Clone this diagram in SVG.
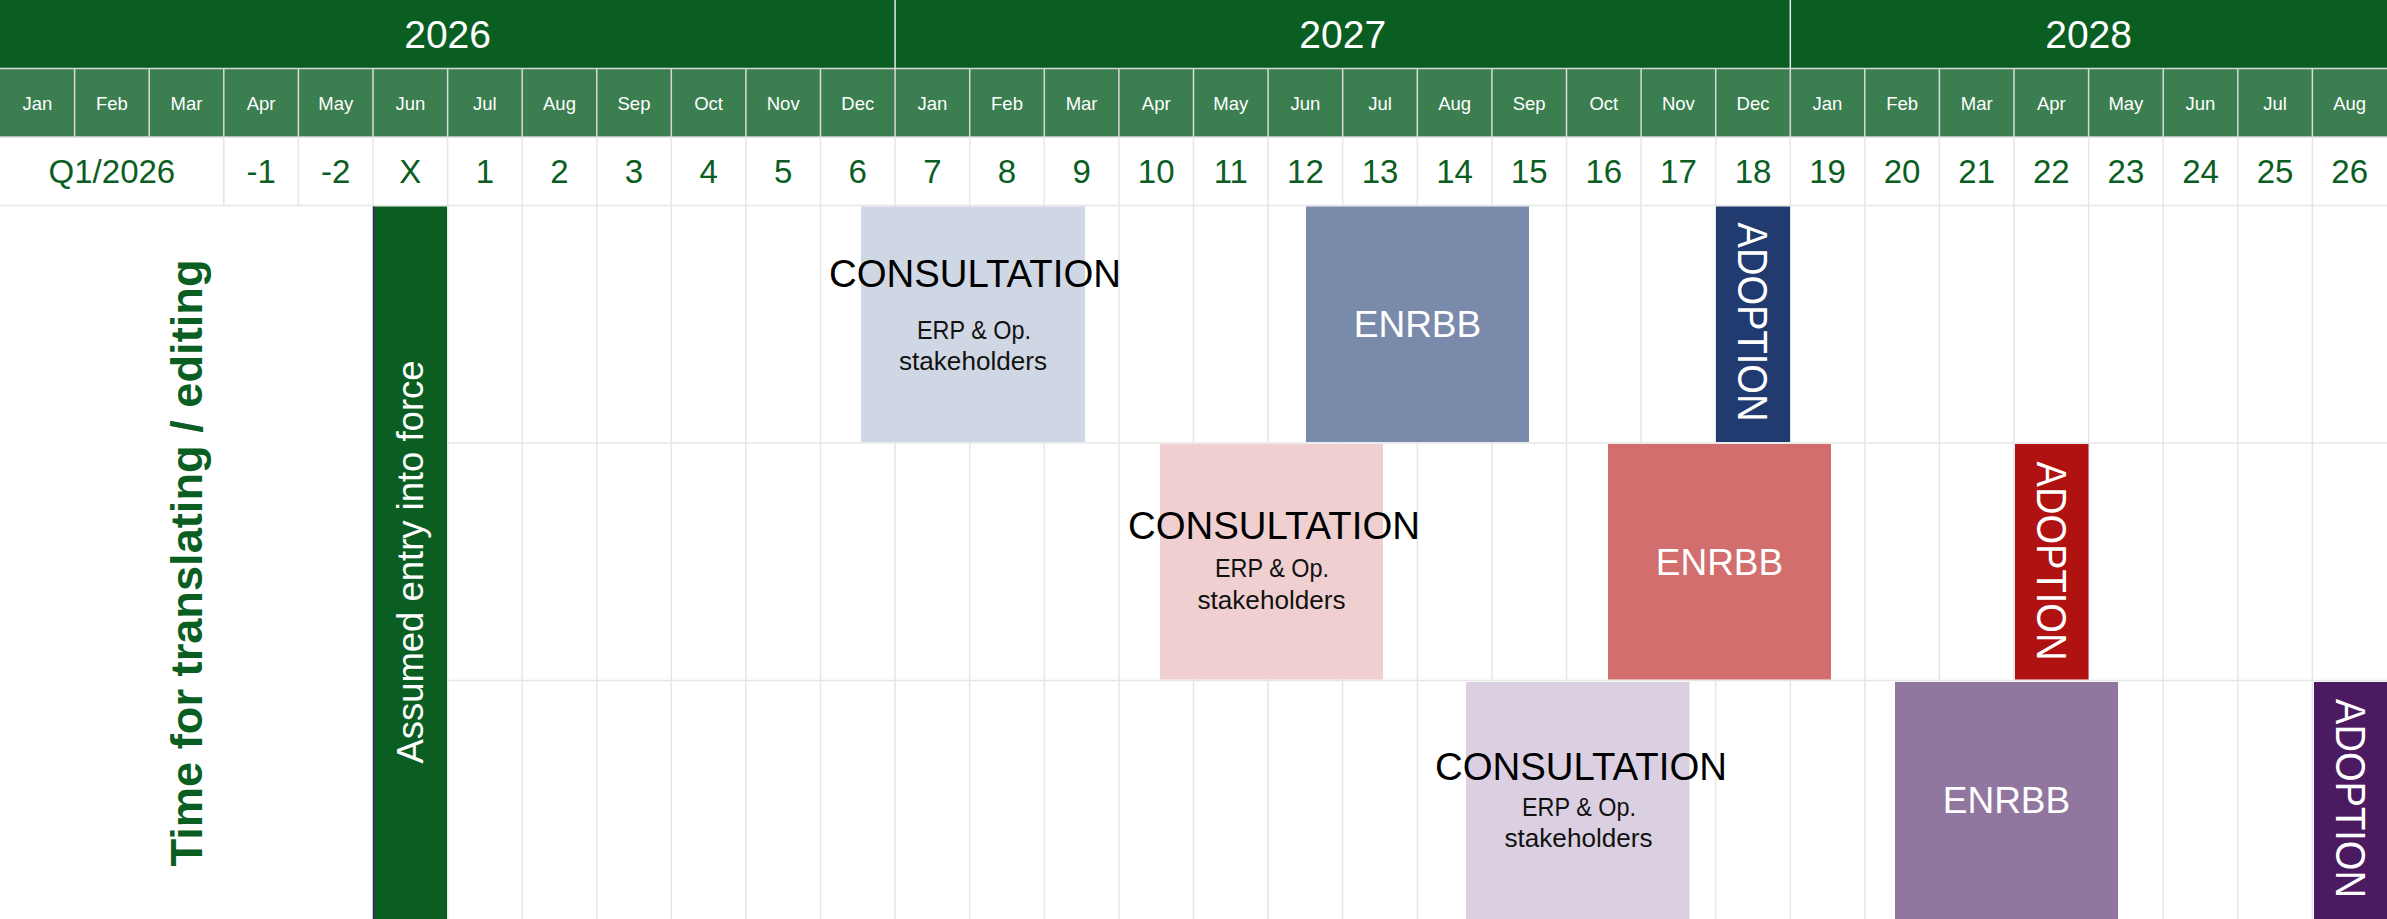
<svg xmlns="http://www.w3.org/2000/svg" width="2387" height="919" viewBox="0 0 2387 919">
<style>
.yr{fill:#0A5E22}
.mo{fill:#3B7E50}
.hl{stroke:#D9D9D9;stroke-width:1.5;fill:none}
.gl{stroke:#E6E6E6;stroke-width:1.5;fill:none}
.yt{font-family:"Liberation Sans",Arial,sans-serif;font-size:39px;fill:#FFFFFF;text-anchor:middle}
.mt{font-family:"Liberation Sans",Arial,sans-serif;font-size:18.5px;fill:#FFFFFF;text-anchor:middle}
.nt{font-family:"Liberation Sans",Arial,sans-serif;font-size:33px;fill:#0A5E22;text-anchor:middle}
.ct{font-family:"Liberation Sans",Arial,sans-serif;font-size:39.5px;fill:#000000;text-anchor:middle}
.st{font-family:"Liberation Sans",Arial,sans-serif;font-size:25px;fill:#111111;text-anchor:middle}
.et{font-family:"Liberation Sans",Arial,sans-serif;font-size:37px;fill:#FFFFFF;text-anchor:middle}
.at{font-family:"Liberation Sans",Arial,sans-serif;font-size:42px;fill:#FFFFFF;text-anchor:middle}
</style>
<rect x="0" y="0" width="2387" height="919" fill="#FFFFFF"/>

<g id="header">
  <rect class="yr" x="0" y="0" width="2387" height="68.5"/>
  <rect class="mo" x="0" y="68.5" width="2387" height="68.5"/>
  <g class="hl">
    <line x1="895.1" y1="0" x2="895.1" y2="68.5" stroke="#E8E8E8"/>
    <line x1="1790.3" y1="0" x2="1790.3" y2="68.5" stroke="#E8E8E8"/>
    <line x1="0" y1="68.5" x2="2387" y2="68.5"/>
    <line x1="0" y1="137" x2="2387" y2="137"/>
    <path d="M74.6 68.5V137M149.2 68.5V137M223.8 68.5V137M298.4 68.5V137M373 68.5V137M447.6 68.5V137M522.2 68.5V137M596.8 68.5V137M671.3 68.5V137M745.9 68.5V137M820.5 68.5V137M895.1 68.5V137M969.7 68.5V137M1044.3 68.5V137M1118.9 68.5V137M1193.5 68.5V137M1268.1 68.5V137M1342.7 68.5V137M1417.3 68.5V137M1491.9 68.5V137M1566.5 68.5V137M1641.1 68.5V137M1715.7 68.5V137M1790.3 68.5V137M1864.8 68.5V137M1939.4 68.5V137M2014 68.5V137M2088.6 68.5V137M2163.2 68.5V137M2237.8 68.5V137M2312.4 68.5V137"/>
  </g>
  <text class="yt" x="447.6" y="48">2026</text>
  <text class="yt" x="1342.7" y="48">2027</text>
  <text class="yt" x="2088.6" y="48">2028</text>
  <g class="mt">
    <text x="37.3" y="110">Jan</text><text x="111.9" y="110">Feb</text><text x="186.5" y="110">Mar</text>
    <text x="261.1" y="110">Apr</text><text x="335.7" y="110">May</text><text x="410.3" y="110">Jun</text>
    <text x="484.9" y="110">Jul</text><text x="559.5" y="110">Aug</text><text x="634" y="110">Sep</text>
    <text x="708.6" y="110">Oct</text><text x="783.2" y="110">Nov</text><text x="857.8" y="110">Dec</text>
    <text x="932.4" y="110">Jan</text><text x="1007" y="110">Feb</text><text x="1081.6" y="110">Mar</text>
    <text x="1156.2" y="110">Apr</text><text x="1230.8" y="110">May</text><text x="1305.4" y="110">Jun</text>
    <text x="1380" y="110">Jul</text><text x="1454.6" y="110">Aug</text><text x="1529.2" y="110">Sep</text>
    <text x="1603.8" y="110">Oct</text><text x="1678.4" y="110">Nov</text><text x="1753" y="110">Dec</text>
    <text x="1827.5" y="110">Jan</text><text x="1902.1" y="110">Feb</text><text x="1976.7" y="110">Mar</text>
    <text x="2051.3" y="110">Apr</text><text x="2125.9" y="110">May</text><text x="2200.5" y="110">Jun</text>
    <text x="2275.1" y="110">Jul</text><text x="2349.7" y="110">Aug</text>
  </g>
</g>

<g id="numbers">
  <g class="gl">
    <line x1="0" y1="205.5" x2="2387" y2="205.5"/>
    <path d="M223.8 137V205.5M298.4 137V205.5M373 137V205.5M447.6 137V205.5M522.2 137V205.5M596.8 137V205.5M671.3 137V205.5M745.9 137V205.5M820.5 137V205.5M895.1 137V205.5M969.7 137V205.5M1044.3 137V205.5M1118.9 137V205.5M1193.5 137V205.5M1268.1 137V205.5M1342.7 137V205.5M1417.3 137V205.5M1491.9 137V205.5M1566.5 137V205.5M1641.1 137V205.5M1715.7 137V205.5M1790.3 137V205.5M1864.8 137V205.5M1939.4 137V205.5M2014 137V205.5M2088.6 137V205.5M2163.2 137V205.5M2237.8 137V205.5M2312.4 137V205.5"/>
  </g>
  <g class="nt">
    <text x="111.9" y="183">Q1/2026</text>
    <text x="261.1" y="183">-1</text><text x="335.7" y="183">-2</text><text x="410.3" y="183">X</text>
    <text x="484.9" y="183">1</text><text x="559.5" y="183">2</text><text x="634" y="183">3</text>
    <text x="708.6" y="183">4</text><text x="783.2" y="183">5</text><text x="857.8" y="183">6</text>
    <text x="932.4" y="183">7</text><text x="1007" y="183">8</text><text x="1081.6" y="183">9</text>
    <text x="1156.2" y="183">10</text><text x="1230.8" y="183">11</text><text x="1305.4" y="183">12</text>
    <text x="1380" y="183">13</text><text x="1454.6" y="183">14</text><text x="1529.2" y="183">15</text>
    <text x="1603.8" y="183">16</text><text x="1678.4" y="183">17</text><text x="1753" y="183">18</text>
    <text x="1827.5" y="183">19</text><text x="1902.1" y="183">20</text><text x="1976.7" y="183">21</text>
    <text x="2051.3" y="183">22</text><text x="2125.9" y="183">23</text><text x="2200.5" y="183">24</text>
    <text x="2275.1" y="183">25</text><text x="2349.7" y="183">26</text>
  </g>
</g>

<g id="grid">
  <g class="gl">
    <line x1="447.6" y1="443" x2="2387" y2="443"/>
    <line x1="447.6" y1="680.5" x2="2387" y2="680.5"/>
    <path d="M447.6 205.5V919M522.2 205.5V919M596.8 205.5V919M671.3 205.5V919M745.9 205.5V919M820.5 205.5V919M895.1 205.5V919M969.7 205.5V919M1044.3 205.5V919M1118.9 205.5V919M1193.5 205.5V919M1268.1 205.5V919M1342.7 205.5V919M1417.3 205.5V919M1491.9 205.5V919M1566.5 205.5V919M1641.1 205.5V919M1715.7 205.5V919M1790.3 205.5V919M1864.8 205.5V919M1939.4 205.5V919M2014 205.5V919M2088.6 205.5V919M2163.2 205.5V919M2237.8 205.5V919M2312.4 205.5V919"/>
  </g>
</g>

<g id="translating-label">
  <text transform="translate(202,563) rotate(-90)" font-family="'Liberation Sans',Arial,sans-serif" font-size="45" font-weight="bold" fill="#0A5E22" text-anchor="middle" textLength="607" lengthAdjust="spacingAndGlyphs">Time for translating / editing</text>
</g>

<g id="entry-into-force">
  <rect x="373" y="206.5" width="74" height="712.5" fill="#0A5E22"/>
  <line x1="373.5" y1="206.5" x2="373.5" y2="919" stroke="#3C1F5E" stroke-width="1.5"/>
  <text transform="translate(423,562) rotate(-90)" font-family="'Liberation Sans',Arial,sans-serif" font-size="36.5" fill="#FFFFFF" text-anchor="middle" textLength="403" lengthAdjust="spacingAndGlyphs">Assumed entry into force</text>
</g>

<g id="consultation-1">
  <rect x="861" y="206.5" width="224" height="235.5" fill="#D0D7E4"/>
  <text class="ct" x="975" y="287" textLength="292" lengthAdjust="spacingAndGlyphs">CONSULTATION</text>
  <text class="st" x="974" y="339" textLength="114" lengthAdjust="spacingAndGlyphs">ERP &amp; Op.</text>
  <text class="st" x="973" y="369.5" textLength="148" lengthAdjust="spacingAndGlyphs">stakeholders</text>
</g>
<g id="enrbb-1">
  <rect x="1306" y="206.5" width="223" height="235.5" fill="#7A8AAA"/>
  <text class="et" x="1417.5" y="337">ENRBB</text>
</g>
<g id="adoption-1">
  <rect x="1716" y="206.5" width="74" height="235.5" fill="#213B70"/>
  <text class="at" transform="translate(1737.5,322) rotate(90)" textLength="199" lengthAdjust="spacingAndGlyphs">ADOPTION</text>
</g>

<g id="consultation-2">
  <rect x="1160" y="444" width="223" height="235.5" fill="#EFCFCF"/>
  <text class="ct" x="1274" y="539" textLength="292" lengthAdjust="spacingAndGlyphs">CONSULTATION</text>
  <text class="st" x="1272" y="577" textLength="114" lengthAdjust="spacingAndGlyphs">ERP &amp; Op.</text>
  <text class="st" x="1271.5" y="608.5" textLength="148" lengthAdjust="spacingAndGlyphs">stakeholders</text>
</g>
<g id="enrbb-2">
  <rect x="1608" y="444" width="223" height="235.5" fill="#D26E6E"/>
  <text class="et" x="1719.5" y="575">ENRBB</text>
</g>
<g id="adoption-2">
  <rect x="2015" y="444" width="73.5" height="235.5" fill="#B01212"/>
  <text class="at" transform="translate(2036.5,561) rotate(90)" textLength="199" lengthAdjust="spacingAndGlyphs">ADOPTION</text>
</g>

<g id="consultation-3">
  <rect x="1466" y="682" width="223.5" height="237" fill="#DBD0E1"/>
  <text class="ct" x="1581" y="780" textLength="292" lengthAdjust="spacingAndGlyphs">CONSULTATION</text>
  <text class="st" x="1579" y="816" textLength="114" lengthAdjust="spacingAndGlyphs">ERP &amp; Op.</text>
  <text class="st" x="1578.5" y="847" textLength="148" lengthAdjust="spacingAndGlyphs">stakeholders</text>
</g>
<g id="enrbb-3">
  <rect x="1895" y="682" width="223" height="237" fill="#9176A0"/>
  <text class="et" x="2006.5" y="813">ENRBB</text>
</g>
<g id="adoption-3">
  <rect x="2314" y="682" width="73" height="237" fill="#4B1A61"/>
  <text class="at" transform="translate(2335.5,798.5) rotate(90)" textLength="199" lengthAdjust="spacingAndGlyphs">ADOPTION</text>
</g>

<g id="connectors"></g>
</svg>
